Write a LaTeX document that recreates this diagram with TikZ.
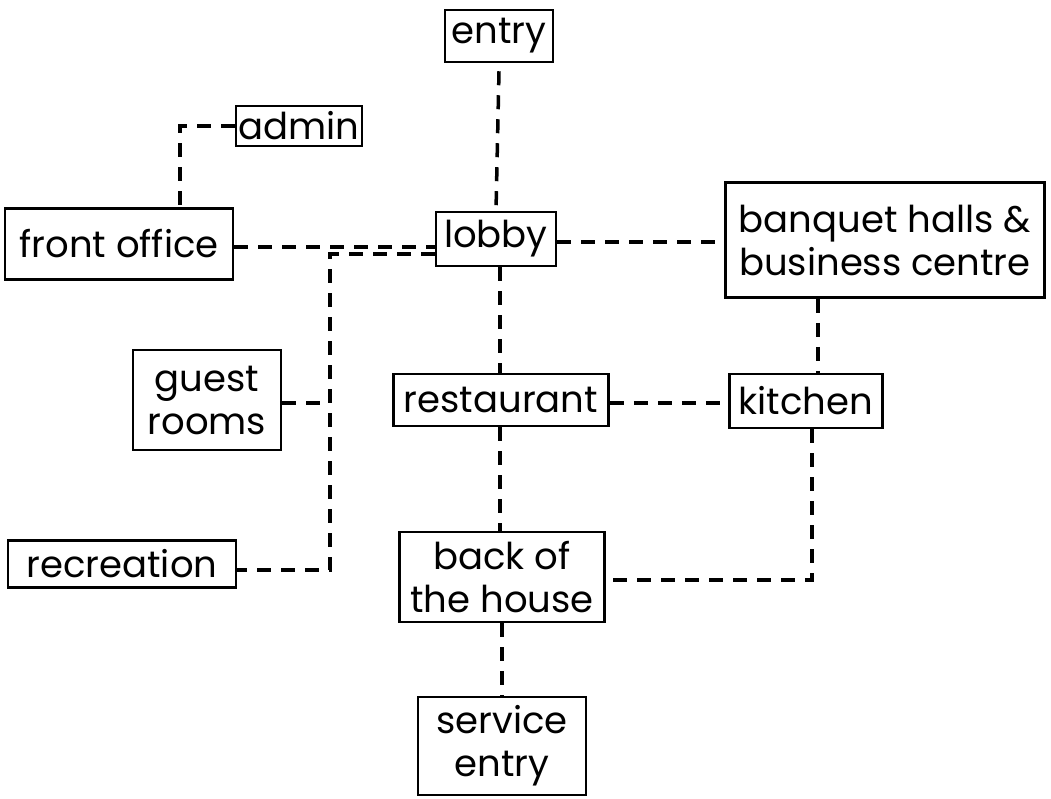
\documentclass[tikz,border=0pt]{standalone}
\usepackage{fontspec}
\setmainfont{Poppins}
\begin{document}
\begin{tikzpicture}[x=1pt,y=-1pt,
  box/.style={draw, line width=2.5pt, inner sep=0pt, align=center,
    font=\fontsize{37}{43}\selectfont},
  conn/.style={line width=3.5pt, dash pattern=on 14pt off 10pt}]
\useasboundingbox (0,0) rectangle (1051,798);
\node[box, minimum width=108pt, minimum height=52pt] (entry) at (499,36) {entry};
\node[box, minimum width=126pt, minimum height=40pt] (admin) at (299,126) {admin};
\node[box, minimum width=228pt, minimum height=71pt] (fo) at (119,244) {front office};
\node[box, minimum width=120pt, minimum height=54pt] (lobby) at (496,239) {lobby};
\node[box, minimum width=319pt, minimum height=115pt] (ban) at (885,240) {banquet halls \&\\business centre};
\node[box, minimum width=148pt, minimum height=100pt] (guest) at (207,400) {guest\\rooms};
\node[box, minimum width=215pt, minimum height=52pt] (rest) at (501,400) {restaurant};
\node[box, minimum width=153pt, minimum height=54pt] (kit) at (806,401) {kitchen};
\node[box, minimum width=228pt, minimum height=47pt] (rec) at (122,564) {recreation};
\node[box, minimum width=205pt, minimum height=90pt] (back) at (502,577) {back of\\the house};
\node[box, minimum width=168pt, minimum height=98pt] (serv) at (502,746) {service\\entry};
\coordinate (j2) at (330,570);
\draw[conn] ([yshift=-8pt]entry.south) -- (lobby.north);
\draw[conn] (admin.west) -| ([xshift=61pt]fo.north);
\draw[conn] ([yshift=-3pt]fo.east) -- ([yshift=-3pt]fo.east -| lobby.west);
\draw[conn] ([yshift=-15pt]lobby.west) -| (j2) -- (j2 -| rec.east);
\draw[conn] ([yshift=-3pt]guest.east) -- ([yshift=-3pt]guest.east -| j2);
\draw[conn] ([yshift=-3pt]lobby.east) -- ([yshift=-3pt]lobby.east -| ban.west);
\draw[conn] ([xshift=4pt]lobby.south) -- ([xshift=4pt]lobby.south |- rest.north);
\draw[conn] ([yshift=-3pt]rest.east) -- ([yshift=-3pt]rest.east -| kit.west);
\draw[conn] ([xshift=-67pt]ban.south) -- ([xshift=12pt]kit.north);
\draw[conn] ([xshift=6pt]kit.south) |- ([yshift=-3pt]back.east);
\draw[conn] ([xshift=-1pt]rest.south) -- ([xshift=-1pt]rest.south |- back.north);
\draw[conn] (back.south) -- (serv.north);
\end{tikzpicture}
\end{document}
